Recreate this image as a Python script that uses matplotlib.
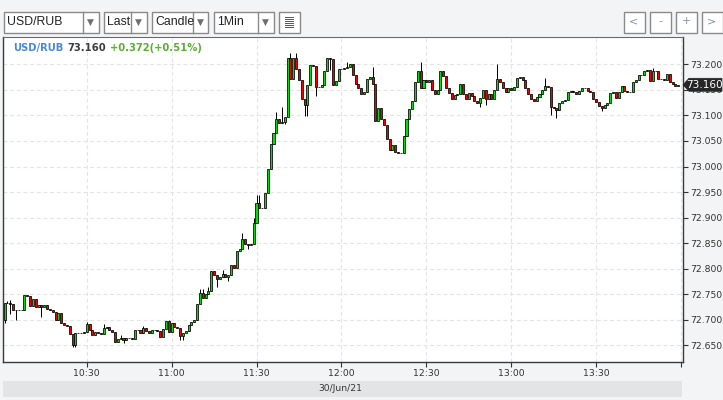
import matplotlib
matplotlib.use("Agg")
import matplotlib.pyplot as plt
import numpy as np
from matplotlib.patches import Rectangle, Polygon

W, H = 723, 400

# USD/RUB 1-minute candles, 30/Jun/21, minute index from 10:00
first_open = 72.700
closes = [
    72.732, 72.733, 72.731, 72.719, 72.720, 72.719, 72.720, 72.748, 72.747, 72.727,
    72.741, 72.725, 72.730, 72.726, 72.730, 72.722, 72.720, 72.716, 72.700, 72.714,
    72.693, 72.690, 72.687, 72.672, 72.650, 72.674, 72.675, 72.674, 72.676, 72.691,
    72.681, 72.671, 72.676, 72.674, 72.672, 72.685, 72.686, 72.680, 72.677, 72.657,
    72.663, 72.664, 72.661, 72.664, 72.665, 72.663, 72.681, 72.680, 72.674, 72.684,
    72.678, 72.675, 72.681, 72.680, 72.679, 72.667, 72.683, 72.698, 72.676, 72.694,
    72.686, 72.684, 72.668, 72.674, 72.678, 72.689, 72.696, 72.699, 72.731, 72.752,
    72.743, 72.751, 72.757, 72.795, 72.787, 72.779, 72.784, 72.789, 72.783, 72.787,
    72.808, 72.802, 72.834, 72.839, 72.859, 72.848, 72.847, 72.849, 72.890, 72.928,
    72.918, 72.919, 72.949, 72.995, 73.045, 73.066, 73.093, 73.086, 73.088, 73.096,
    73.212, 73.172, 73.212, 73.191, 73.169, 73.133, 73.120, 73.159, 73.198, 73.196,
    73.156, 73.156, 73.159, 73.187, 73.212, 73.210, 73.159, 73.167, 73.191, 73.191,
    73.192, 73.195, 73.200, 73.179, 73.161, 73.153, 73.141, 73.146, 73.171, 73.176,
    73.161, 73.089, 73.115, 73.093, 73.082, 73.053, 73.032, 73.043, 73.029, 73.026,
    73.026, 73.060, 73.094, 73.112, 73.128, 73.166, 73.187, 73.153, 73.169, 73.166,
    73.169, 73.150, 73.141, 73.150, 73.187, 73.178, 73.154, 73.143, 73.133, 73.140,
    73.141, 73.161, 73.141, 73.132, 73.143, 73.138, 73.128, 73.125, 73.134, 73.150,
    73.133, 73.142, 73.132, 73.150, 73.172, 73.165, 73.153, 73.145, 73.154, 73.150,
    73.156, 73.174, 73.176, 73.169, 73.153, 73.141, 73.133, 73.128, 73.137, 73.141,
    73.150, 73.158, 73.156, 73.117, 73.114, 73.110, 73.125, 73.128, 73.130, 73.145,
    73.148, 73.145, 73.142, 73.148, 73.153, 73.153, 73.148, 73.145, 73.133, 73.127,
    73.119, 73.115, 73.120, 73.124, 73.143, 73.146, 73.135, 73.146, 73.158, 73.148,
    73.145, 73.146, 73.165, 73.169, 73.179, 73.180, 73.187, 73.189, 73.167, 73.186,
    73.186, 73.172, 73.172, 73.169, 73.182, 73.166, 73.161, 73.158, 73.160,
]
# wick extremes that stick out from the bodies
wick_high = {
    2: 72.737, 3: 72.738, 30: 72.695, 36: 72.692, 42: 72.670, 50: 72.688, 59: 72.700,
    70: 72.760, 71: 72.760, 73: 72.764, 78: 72.798, 85: 72.870, 89: 72.900,
    90: 72.944, 91: 72.944, 97: 73.107, 99: 73.117, 102: 73.222, 104: 73.222,
    116: 73.212, 122: 73.205, 131: 73.195, 148: 73.204, 175: 73.200, 192: 73.174,
    194: 73.145, 230: 73.192,
}
wick_low = {
    1: 72.694, 3: 72.712, 5: 72.700, 14: 72.706, 25: 72.647, 26: 72.647, 43: 72.655,
    63: 72.660, 64: 72.660, 76: 72.765, 80: 72.777, 87: 72.838, 100: 73.084,
    107: 73.098, 108: 73.098, 111: 73.138, 116: 73.189, 169: 73.117, 171: 73.121,
    194: 73.100, 196: 73.095, 212: 73.108,
}

symbol = "USD/RUB"
last_text = "73.160"
change_text = "+0.372(+0.51%)"
date_text = "30/Jun/21"
y_ticks = [72.65, 72.70, 72.75, 72.80, 72.85, 72.90, 72.95, 73.00, 73.05, 73.10, 73.15, 73.20]
x_ticks = [30, 60, 90, 120, 150, 180, 210]
x_labels = ["10:30", "11:00", "11:30", "12:00", "12:30", "13:00", "13:30"]

bg = "#f3f4f6"
fig = plt.figure(figsize=(W / 100, H / 100), dpi=100, facecolor=bg)


def fx(x):
    return x / W


def fy(y):
    return 1 - y / H


def box(x0, y0, x1, y1, fc="white", ec="#8a8a8a", lw=1.0, z=1):
    fig.patches.append(Rectangle((fx(x0), fy(y1)), fx(x1 - x0), (y1 - y0) / H,
                                 transform=fig.transFigure, facecolor=fc,
                                 edgecolor=ec, linewidth=lw, zorder=z))


# ---- toolbar
ui_font = "Liberation Sans"
dropdowns = [(3.5, 82.5, 98.5, "USD/RUB"), (103.5, 130.5, 146.5, "Last"),
             (151.5, 192.5, 208.5, "Candle"), (213.5, 257.5, 273.5, "1Min")]
for x0, xd, x1, label in dropdowns:
    box(x0, 11.5, x1, 32.5)
    fig.lines.append(plt.Line2D([fx(xd), fx(xd)], [fy(11.5), fy(32.5)],
                                transform=fig.transFigure, color="#8a8a8a", lw=1.0))
    fig.text(fx(x0 + 4), fy(22), label, fontsize=8.8, family=ui_font,
             color="#222222", va="center", ha="left")
    fig.text(fx((xd + x1) / 2), fy(22.5), "\u25bc", fontsize=6.5, color="#6e6e6e",
             va="center", ha="center")
box(278.5, 11.5, 299.5, 32.5)
for k in range(6):
    yy = 16.5 + k * 2.0
    fig.lines.append(plt.Line2D([fx(285), fx(286.5)], [fy(yy), fy(yy)],
                                transform=fig.transFigure, color="#555555", lw=0.7))
    fig.lines.append(plt.Line2D([fx(288), fx(293)], [fy(yy), fy(yy)],
                                transform=fig.transFigure, color="#555555", lw=0.7))
for x0, label in [(623.5, "<"), (649.5, "-"), (675.5, "+"), (701.5, ">")]:
    box(x0, 11.5, x0 + 21, 32.5)
    fig.text(fx(x0 + 10.5), fy(21.5), label, fontsize=8, family="DejaVu Sans",
             color="#7f93ad", va="center", ha="center")

# ---- bottom scroll band
box(3, 381, 682, 397, fc="#e3e4e6", ec="none", lw=0)
fig.text(fx(340), fy(388.5), date_text, fontsize=6.6, color="#333333",
         ha="center", va="center")

# ---- price axes
ax = fig.add_axes([fx(3), fy(361.5), fx(680), 324.5 / H])
ax.set_facecolor("white")

n = len(closes)
minutes = np.arange(1, n + 1)
opens = np.array([first_open] + closes[:-1])
closes_arr = np.array(closes)
highs = np.maximum(opens, closes_arr)
lows = np.minimum(opens, closes_arr)
for m, v in wick_high.items():
    highs[m - 1] = max(highs[m - 1], v)
for m, v in wick_low.items():
    lows[m - 1] = min(lows[m - 1], v)

up = closes_arr >= opens
colors = np.where(up, "#00e000", "#f00000")

ax.vlines(minutes, lows, highs, color="black", linewidth=0.7, zorder=2)
ax.bar(minutes, closes_arr - opens, bottom=opens, width=0.72, color=colors,
       edgecolor="black", linewidth=0.55, zorder=3)

ax.set_xlim(0.42, 240.7)
ax.set_ylim(72.6185, 73.2535)

ax.yaxis.tick_right()
ax.set_yticks(y_ticks)
ax.set_yticklabels([f"{v:.3f}" for v in y_ticks])
ax.set_xticks(x_ticks + [240])
ax.set_xticklabels(x_labels + [""])
ax.tick_params(axis="both", direction="out", length=3.5, width=0.8, color="#333333",
               labelsize=6.7, labelcolor="#333333", pad=1.5)
ax.tick_params(axis="x", pad=2)
for lbl in ax.get_yticklabels() + ax.get_xticklabels():
    lbl.set_family("DejaVu Sans")

ax.grid(True, color="#e4e4e4", linewidth=0.8, linestyle=(0, (3.5, 2.5)), zorder=0)
ax.set_axisbelow(True)
for side in ["left", "bottom", "right"]:
    ax.spines[side].set_color("#3a3a3a")
    ax.spines[side].set_linewidth(1.0)
ax.spines["top"].set_color("#6a6a6a")
ax.spines["top"].set_linewidth(0.8)

# last price tag on the right axis, placed at the last close
y_tag = H - ax.transData.transform((0, closes[-1]))[1]
x_ax = 683
tag = Polygon([(fx(x_ax), fy(y_tag)), (fx(x_ax + 6), fy(y_tag - 6.5)),
               (fx(722), fy(y_tag - 6.5)), (fx(722), fy(y_tag + 6.5)),
               (fx(x_ax + 6), fy(y_tag + 6.5))],
              closed=True, transform=fig.transFigure, facecolor="#262626",
              edgecolor="#262626", linewidth=0.5, zorder=9)
fig.patches.append(tag)
fig.text(fx(704.5), fy(y_tag), last_text, fontsize=7.6, color="white",
         family="DejaVu Sans", ha="center", va="center", zorder=10)

# header line with symbol, last price and change
renderer = fig.canvas.get_renderer()
x_cursor = fx(13.5)
for txt, col in [(symbol, "#4a86e8"), (last_text, "#3c3c3c"), (change_text, "#58b032")]:
    t = fig.text(x_cursor, fy(48), txt, fontsize=7.2, fontweight="bold",
                 family="DejaVu Sans", color=col, ha="left", va="center", zorder=10)
    bb = t.get_window_extent(renderer=renderer)
    x_cursor = (bb.x1 + 4) / W

fig.savefig("out.png", dpi=100, facecolor=bg)
